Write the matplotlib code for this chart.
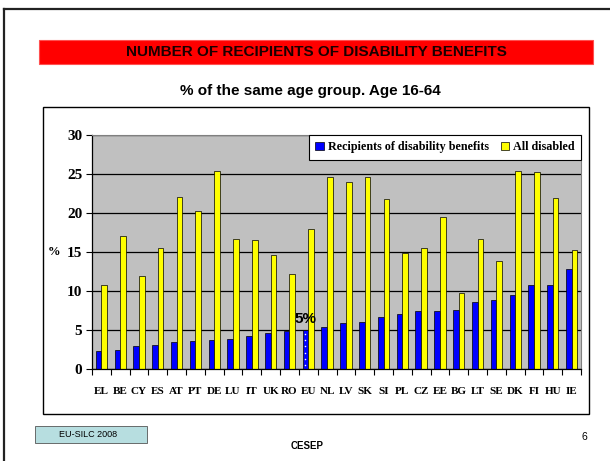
import matplotlib.pyplot as plt
import numpy as np
from matplotlib.patches import Rectangle
from matplotlib.lines import Line2D

# Datos (% del mismo grupo de edad, 16-64)
countries = ['EL', 'BE', 'CY', 'ES', 'AT', 'PT', 'DE', 'LU', 'IT', 'UK', 'RO', 'EU', 'NL',
             'LV', 'SK', 'SI', 'PL', 'CZ', 'EE', 'BG', 'LT', 'SE', 'DK', 'FI', 'HU', 'IE']
recipients = [2.3, 2.4, 2.9, 3.0, 3.4, 3.55, 3.7, 3.8, 4.15, 4.55, 4.85, 4.95, 5.4,
              5.8, 5.95, 6.6, 7.0, 7.35, 7.35, 7.5, 8.5, 8.8, 9.4, 10.7, 10.7, 12.8]
all_disabled = [10.7, 17.0, 11.9, 15.5, 22.0, 20.2, 25.3, 16.6, 16.5, 14.6, 12.1, 17.9, 24.6,
                23.9, 24.6, 21.8, 14.8, 15.5, 19.5, 9.7, 16.6, 13.8, 25.4, 25.2, 21.9, 15.2]
yticks = [0, 5, 10, 15, 20, 25, 30]

W, H = 610, 461
fig = plt.figure(figsize=(W / 100, H / 100), dpi=100)
fig.patch.set_facecolor('white')


def fx(px):
    return px / W


def fy(py):
    return 1 - py / H


# Marco de la diapositiva (solo arriba e izquierda)
fig.add_artist(Line2D([fx(3.5), fx(3.5)], [fy(9.5), 0], color='#222222', lw=1.6))
fig.add_artist(Line2D([fx(3.5), 1], [fy(9.5), fy(9.5)], color='#222222', lw=1.6))

# Banda roja del título
fig.add_artist(Rectangle((fx(39), fy(64)), fx(593) - fx(39), fy(40) - fy(64),
                         facecolor='#ff0000', edgecolor='#ff5050', lw=0.8))
fig.text(fx(316), fy(52.5), 'NUMBER OF RECIPIENTS OF DISABILITY BENEFITS', ha='center', va='center',
         fontsize=11, fontweight='bold', family='Liberation Sans', color='#1a0000')
fig.text(fx(310), fy(90.5), '% of the same age group. Age 16-64', ha='center', va='center',
         fontsize=11, fontweight='bold', family='Liberation Sans')

# Marco del gráfico
fig.add_artist(Rectangle((fx(43), fy(414)), fx(589) - fx(43), fy(107) - fy(414),
                         facecolor='none', edgecolor='black', lw=1.0))

# Ejes
ax = fig.add_axes([fx(92), fy(368.7), fx(581) - fx(92), fy(134.7) - fy(368.7)])
ax.set_facecolor('#c0c0c0')
ax.set_axisbelow(True)

x = np.arange(len(countries))
w = 0.3
ax.bar(x - w / 2, recipients, w, color='#0000ff', edgecolor='black', lw=0.5,
       label='Recipients of disability benefits')
ax.bar(x + w / 2, all_disabled, w, color='#ffff00', edgecolor='black', lw=0.5,
       label='All disabled')

# Barra EU con puntos blancos
i_eu = countries.index('EU')
dots = np.arange(0.45, recipients[i_eu], 0.8)
ax.scatter(np.full(len(dots), x[i_eu] - w / 2), dots, s=1.2, color='white', zorder=3,
           linewidths=0)
ax.text(x[i_eu] - w / 2, recipients[i_eu] + 0.55, '5%', ha='center', va='bottom',
        fontsize=11, fontweight='bold', family='Liberation Sans')

ax.set_xlim(-0.5, len(countries) - 0.5)
ax.set_ylim(0, 30)
ax.set_yticks(yticks)
ax.set_yticklabels([str(t) for t in yticks], family='Liberation Serif', fontweight='bold',
                   fontsize=11)
ax.set_xticks(x)
ax.set_xticklabels(countries, family='Liberation Serif', fontweight='bold', fontsize=8)
ax.set_xticks(np.arange(-0.5, len(countries)), minor=True)
ax.tick_params(axis='x', which='major', length=0, pad=13)
ax.tick_params(axis='x', which='minor', length=4, direction='out', width=0.8)
ax.tick_params(axis='y', length=4, direction='out', width=0.8, pad=3)
ax.yaxis.grid(True, color='black', lw=0.9)
ax.set_ylabel('%', family='Liberation Serif', fontweight='bold', fontsize=9, rotation=0,
              va='center', ha='center')
ax.yaxis.set_label_coords(-0.078, 0.5)

for s in ['top', 'right']:
    ax.spines[s].set_color('#808080')
    ax.spines[s].set_linewidth(0.8)
for s in ['left', 'bottom']:
    ax.spines[s].set_color('black')
    ax.spines[s].set_linewidth(0.9)

leg = ax.legend(loc='upper right', ncol=2, frameon=True, fancybox=False, edgecolor='black',
                framealpha=1, facecolor='white',
                prop={'family': 'Liberation Serif', 'weight': 'bold', 'size': 8.7},
                handlelength=0.7, handleheight=0.7, handletextpad=0.3, columnspacing=1.0,
                borderaxespad=0, borderpad=0.55)
leg.get_frame().set_linewidth(0.8)

# Pie de la diapositiva
fig.add_artist(Rectangle((fx(35), fy(443)), fx(147) - fx(35), fy(426) - fy(443),
                         facecolor='#b7dee0', edgecolor='#555555', lw=0.6))
fig.text(fx(88), fy(434), 'EU-SILC 2008', ha='center', va='center', fontsize=6.5,
         family='Liberation Sans')
fig.text(fx(307), fy(446), 'CESEP', ha='center', va='center', fontsize=7,
         fontweight='bold', family='Liberation Sans')
fig.text(fx(584), fy(437), '6', ha='center', va='center', fontsize=7.5,
         family='Liberation Sans')

fig.savefig('out.png', dpi=100)
